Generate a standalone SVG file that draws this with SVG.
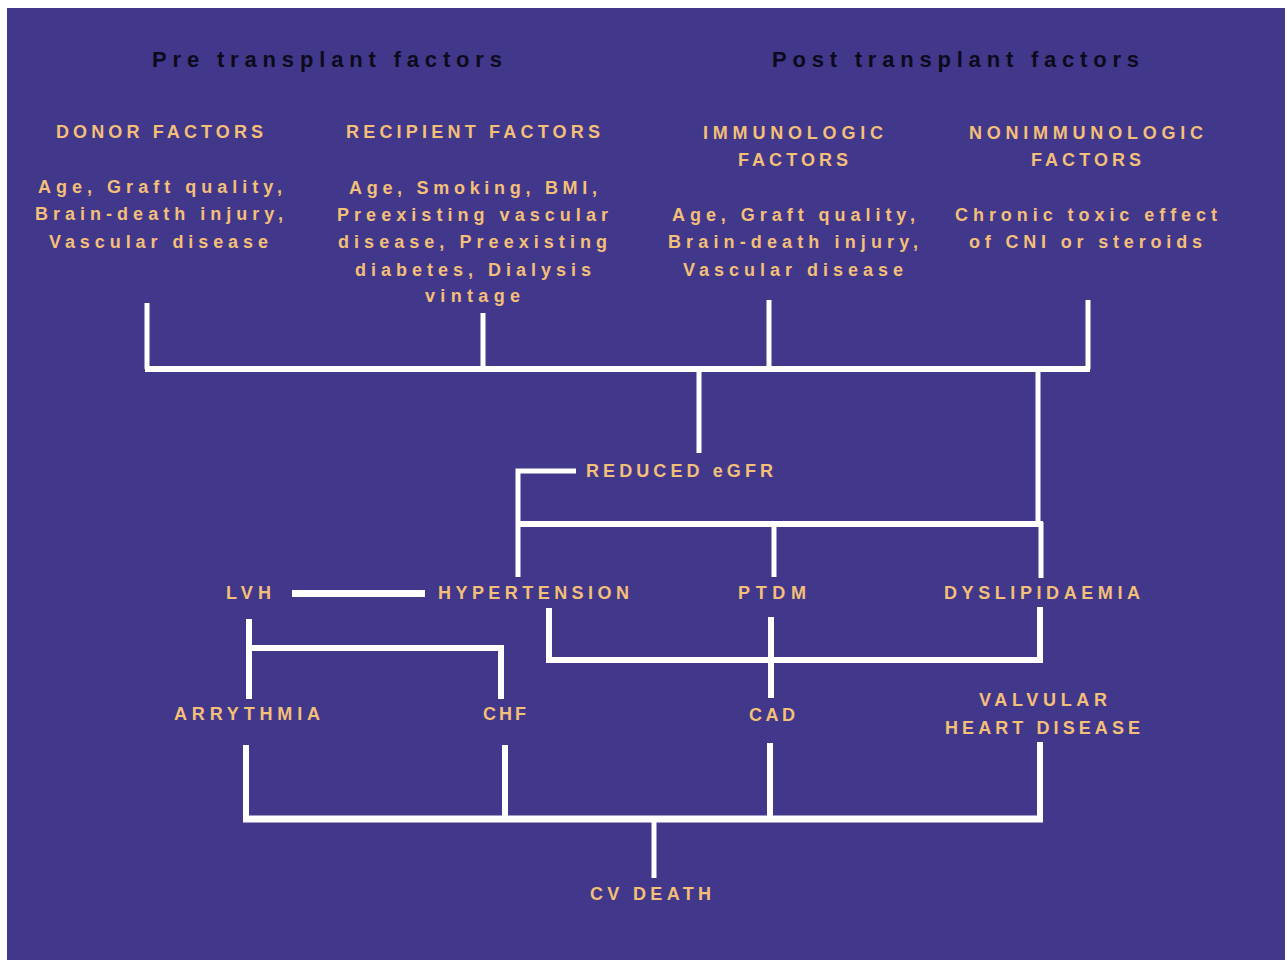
<svg xmlns="http://www.w3.org/2000/svg" width="1288" height="960" viewBox="0 0 1288 960">
<style>
.h{font-family:"Liberation Sans",Arial,sans-serif;font-weight:bold;font-size:22px;fill:#0c0b1c;text-anchor:middle}
.t{font-family:"Liberation Sans",Arial,sans-serif;font-weight:bold;font-size:18px;fill:#F4BF78;text-anchor:middle}
.c{fill:none;stroke:#ffffff;stroke-width:5;stroke-linejoin:miter}
</style>
<rect x="0" y="0" width="1288" height="960" fill="#ffffff"/>
<rect x="7" y="8" width="1278" height="952" fill="#41388B"/>

<g id="pre-title"><text class="h" x="327" y="67" textLength="350" lengthAdjust="spacing">Pre transplant factors</text></g>
<g id="post-title"><text class="h" x="955.5" y="67" textLength="367" lengthAdjust="spacing">Post transplant factors</text></g>

<g id="donor">
<text class="t" x="159.5" y="138" textLength="207" lengthAdjust="spacing">DONOR FACTORS</text>
<text class="t" x="160" y="193" textLength="244" lengthAdjust="spacing">Age, Graft quality,</text>
<text class="t" x="159" y="220" textLength="248" lengthAdjust="spacing">Brain-death injury,</text>
<text class="t" x="158.5" y="248" textLength="219" lengthAdjust="spacing">Vascular disease</text>
</g>
<g id="recipient">
<text class="t" x="473" y="138" textLength="254" lengthAdjust="spacing">RECIPIENT FACTORS</text>
<text class="t" x="473" y="194" textLength="248" lengthAdjust="spacing">Age, Smoking, BMI,</text>
<text class="t" x="472.5" y="221" textLength="271" lengthAdjust="spacing">Preexisting vascular</text>
<text class="t" x="472.5" y="248" textLength="269" lengthAdjust="spacing">disease, Preexisting</text>
<text class="t" x="473" y="276" textLength="236" lengthAdjust="spacing">diabetes, Dialysis</text>
<text class="t" x="472.5" y="302" textLength="95" lengthAdjust="spacing">vintage</text>
</g>
<g id="immunologic">
<text class="t" x="793" y="139" textLength="180" lengthAdjust="spacing">IMMUNOLOGIC</text>
<text class="t" x="793" y="166" textLength="110" lengthAdjust="spacing">FACTORS</text>
<text class="t" x="793.5" y="221" textLength="243" lengthAdjust="spacing">Age, Graft quality,</text>
<text class="t" x="793" y="248" textLength="250" lengthAdjust="spacing">Brain-death injury,</text>
<text class="t" x="793" y="276" textLength="220" lengthAdjust="spacing">Vascular disease</text>
</g>
<g id="nonimmunologic">
<text class="t" x="1086" y="139" textLength="234" lengthAdjust="spacing">NONIMMUNOLOGIC</text>
<text class="t" x="1086" y="166" textLength="110" lengthAdjust="spacing">FACTORS</text>
<text class="t" x="1086" y="221" textLength="262" lengthAdjust="spacing">Chronic toxic effect</text>
<text class="t" x="1085.5" y="248" textLength="233" lengthAdjust="spacing">of CNI or steroids</text>
</g>

<g id="reduced-egfr"><text class="t" x="679.5" y="477" textLength="187" lengthAdjust="spacing">REDUCED eGFR</text></g>
<g id="lvh"><text class="t" x="248.5" y="599" textLength="45" lengthAdjust="spacing">LVH</text></g>
<g id="hypertension"><text class="t" x="533.5" y="599" textLength="191" lengthAdjust="spacing">HYPERTENSION</text></g>
<g id="ptdm"><text class="t" x="772" y="599" textLength="68" lengthAdjust="spacing">PTDM</text></g>
<g id="dyslipidaemia"><text class="t" x="1042" y="599" textLength="196" lengthAdjust="spacing">DYSLIPIDAEMIA</text></g>
<g id="arrythmia"><text class="t" x="247" y="720" textLength="146" lengthAdjust="spacing">ARRYTHMIA</text></g>
<g id="chf"><text class="t" x="504.5" y="720" textLength="43" lengthAdjust="spacing">CHF</text></g>
<g id="cad"><text class="t" x="772" y="721" textLength="46" lengthAdjust="spacing">CAD</text></g>
<g id="valvular">
<text class="t" x="1043" y="706" textLength="128" lengthAdjust="spacing">VALVULAR</text>
<text class="t" x="1042.5" y="734" textLength="195" lengthAdjust="spacing">HEART DISEASE</text>
</g>
<g id="cv-death"><text class="t" x="650.5" y="900" textLength="121" lengthAdjust="spacing">CV DEATH</text></g>

<g id="connectors">
<path class="c" d="M147,303 V369 M483,313 V369 M769,300 V369 M1088,300 V369"/>
<path class="c" style="stroke-width:6" d="M145,369 H1090"/>
<path class="c" d="M699,369 V453 M1038,369 V526"/>
<path class="c" d="M576,471 H518 V577"/>
<path class="c" style="stroke-width:6" d="M516,524 H1043"/>
<path class="c" d="M774,524 V577 M1041,522 V578"/>
<path class="c" style="stroke-width:7" d="M292,593.5 H425"/>
<path class="c" style="stroke-width:6" d="M249,619 V699 M249,648 H501 V699"/>
<path class="c" style="stroke-width:6" d="M549,608 V660 H1040 V607"/>
<path class="c" style="stroke-width:6" d="M771,617 V698"/>
<path class="c" style="stroke-width:6" d="M246,745 V819 M505,745 V819 M770,743 V819 M1040,742 V819"/>
<path class="c" style="stroke-width:7" d="M243,819 H1043"/>
<path class="c" d="M654,819 V878"/>
</g>
</svg>
